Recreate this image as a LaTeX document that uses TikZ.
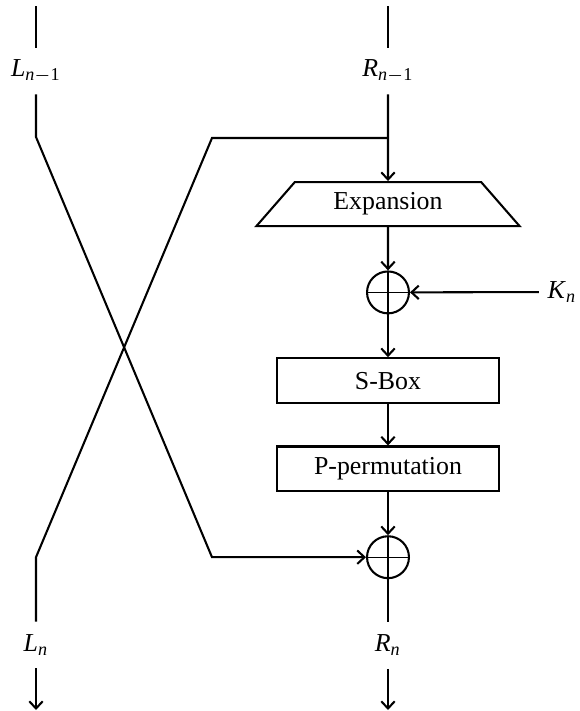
\documentclass[tikz,border=0pt]{standalone}
\usepackage{fontspec}
\setmainfont{Liberation Serif}
\usetikzlibrary{shapes.geometric,arrows.meta}
\newcommand{\signal}[2]{\textit{#1}\textsubscript{#2}}

\begin{document}
\begin{tikzpicture}[
x=0.0136cm, y=-0.0136cm, line width=0.8pt,
>={Straight Barb[length=2.8pt,width=5.2pt]},
bloc/.style={rectangle, draw, minimum width=3.02cm, minimum height=0.61cm},
trapeze/.style={trapezium, draw, trapezium angle=46, trapezium stretches body, minimum width=3.58cm, minimum height=0.6cm},
xor/.style={circle, draw, minimum size=0.57cm, inner sep=0pt, path picture={
    \draw[line width=0.4pt] (path picture bounding box.north) -- (path picture bounding box.south)
        (path picture bounding box.west) -- (path picture bounding box.east);}},
etiquette/.style={inner xsep=3pt, inner ysep=0pt, minimum height=0.61cm},
]
    \useasboundingbox (0,0) rectangle (580,711);
    % Espacement vertical
    \def\espacement{1.2cm}

    % Entrées
    \coordinate (ltop) at (36,6);
    \coordinate (rtop) at (388,6);
    \node [etiquette] (lin) at (36,71) {\signal{L}{\textit{n}$-$1}};
    \node [etiquette] (rin) at (388,71) {\signal{R}{\textit{n}$-$1}};

    % Fonction de tour
    \node [trapeze, below of=rin, node distance=1.81cm] (expansion) {Expansion};
    \node [xor, below of=expansion, node distance=\espacement] (xor1) {};
    \node [etiquette] (kn) at (562,292) {\signal{K}{\textit{n}}};
    \node [bloc, below of=xor1, node distance=\espacement] (sbox) {S-Box};
    \node [bloc, below of=sbox, node distance=\espacement] (pperm) {P-permutation};
    \node [xor, below of=pperm, node distance=\espacement] (xor2) {};

    % Sorties
    \node [etiquette, below of=xor2, node distance=\espacement] (rn) {\signal{R}{\textit{n}}};
    \node [etiquette] (ln) at (36,645) {\signal{L}{\textit{n}}};
    \coordinate (lout) at (36,710);
    \coordinate (rout) at (388,710);

    % Points de croisement
    \coordinate (lbend) at (36,137);
    \coordinate (rsplit) at (388,138);
    \coordinate (rcorner) at (212,138);
    \coordinate (lcorner) at (rcorner |- xor2);
    \coordinate (lbend2) at (lbend |- xor2);

    % Liens
    \draw (ltop) -- (lin);
    \draw (rtop) -- (rin);
    \draw [->] (lin) -- (lbend) -- (lcorner) -- (xor2);
    \draw [->] (rin) -- (expansion);
    \draw (rsplit) -- (rcorner) -- (lbend2) -- (ln);
    \draw [->] (expansion) -- (xor1);
    \draw [->] (kn) -- (xor1);
    \draw [->] (xor1) -- (sbox);
    \draw [->] (sbox) -- (pperm);
    \draw [->] (pperm) -- (xor2);
    \draw (xor2) -- (rn);
    \draw [->] (ln) -- (lout);
    \draw [->] (rn) -- (rout);
\end{tikzpicture}
\end{document}
